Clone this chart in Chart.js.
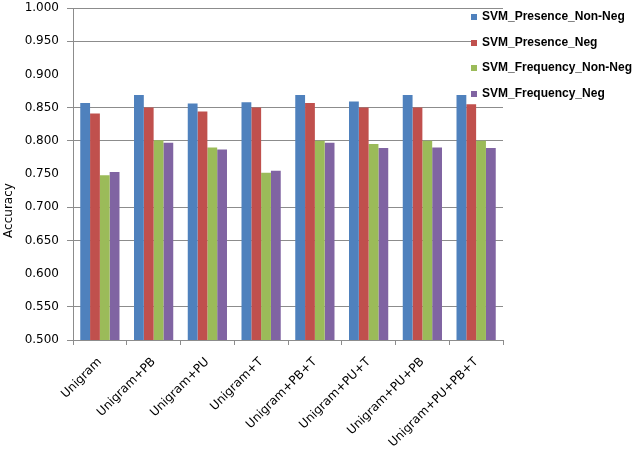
<!DOCTYPE html>
<html>
<head>
<meta charset="utf-8">
<script src="https://cdn.jsdelivr.net/npm/chart.js@4"></script>
<style>
  html, body { margin: 0; padding: 0; background: #ffffff; }
  #wrap { width: 640px; height: 449px; position: relative; }
</style>
</head>
<body>
<div id="wrap"><canvas id="c" width="640" height="449"></canvas></div>
<script>
const categories = ['Unigram', 'Unigram+PB', 'Unigram+PU', 'Unigram+T', 'Unigram+PB+T', 'Unigram+PU+T', 'Unigram+PU+PB', 'Unigram+PU+PB+T'];
const seriesNames = ['SVM_Presence_Non-Neg', 'SVM_Presence_Neg', 'SVM_Frequency_Non-Neg', 'SVM_Frequency_Neg'];
const presenceNonNeg = [0.857, 0.869, 0.856, 0.858, 0.869, 0.859, 0.869, 0.869];
const presenceNeg = [0.841, 0.850, 0.844, 0.850, 0.857, 0.850, 0.850, 0.855];
const frequencyNonNeg = [0.748, 0.801, 0.790, 0.752, 0.800, 0.795, 0.800, 0.800];
const frequencyNeg = [0.753, 0.797, 0.787, 0.755, 0.797, 0.789, 0.790, 0.789];
const yTicks = [0.5, 0.55, 0.6, 0.65, 0.7, 0.75, 0.8, 0.85, 0.9, 0.95, 1.0];
const hiddenGridValues = [0.6, 0.75, 0.9];
const yAxisTitle = 'Accuracy';

const colors = ['#4F81BD', '#C0504D', '#9BBB59', '#8064A2'];
const seriesValues = [presenceNonNeg, presenceNeg, frequencyNonNeg, frequencyNeg];
const FONT = "'DejaVu Sans', sans-serif";
const LEGEND_FONT = "'Liberation Sans', Arial, sans-serif";

const legendPlugin = {
  id: 'customLegend',
  afterDraw(chart) {
    const ctx = chart.ctx;
    ctx.save();
    ctx.fillStyle = '#ffffff';
    ctx.fillRect(471, 11, 169, 92);
    ctx.font = 'bold 12px ' + LEGEND_FONT;
    ctx.textBaseline = 'middle';
    ctx.textAlign = 'left';
    chart.data.datasets.forEach((ds, i) => {
      const y = 17 + i * 25.5;
      ctx.fillStyle = ds.backgroundColor;
      ctx.fillRect(471, Math.round(y) - 3, 6, 6);
      ctx.fillStyle = '#000000';
      ctx.fillText(ds.label, 482, y);
    });
    ctx.restore();
  }
};

const yTitlePlugin = {
  id: 'yTitle',
  afterDraw(chart) {
    const ctx = chart.ctx;
    const s = chart.scales.y;
    ctx.save();
    ctx.font = '12px ' + FONT;
    ctx.fillStyle = '#000000';
    ctx.textAlign = 'center';
    ctx.textBaseline = 'middle';
    ctx.translate(9, s.getPixelForValue(0.695));
    ctx.rotate(-Math.PI / 2);
    ctx.fillText(yAxisTitle, 0, 0);
    ctx.restore();
  }
};

const gridColor = (ctx) => {
  const v = ctx.tick ? ctx.tick.value : null;
  if (v !== null && hiddenGridValues.some(h => Math.abs(h - v) < 1e-6)) return 'rgba(0,0,0,0)';
  return '#8C8C8C';
};

new Chart(document.getElementById('c'), {
  type: 'bar',
  data: {
    labels: categories,
    datasets: seriesNames.map((name, i) => ({
      label: name,
      data: seriesValues[i],
      backgroundColor: colors[i],
      borderWidth: 0,
      categoryPercentage: 0.73,
      barPercentage: 1.0
    }))
  },
  options: {
    responsive: false,
    animation: false,
    devicePixelRatio: 1,
    layout: { padding: { left: 0, right: 137, top: 8, bottom: 0 } },
    plugins: {
      legend: { display: false },
      tooltip: { enabled: false }
    },
    scales: {
      x: {
        grid: { display: true, drawOnChartArea: false, drawTicks: true, tickLength: 5, color: '#8C8C8C', offset: true },
        border: { display: true, color: '#8C8C8C', width: 1 },
        ticks: {
          color: '#000000',
          font: { family: FONT, size: 12 },
          minRotation: 45,
          maxRotation: 45,
          padding: 10,
          autoSkip: false
        },
        afterFit(scale) { scale.height = 109; scale.paddingLeft = 0; scale.paddingRight = 0; }
      },
      y: {
        min: 0.5,
        max: 1.0,
        afterBuildTicks(scale) { scale.ticks = yTicks.map(v => ({ value: v })); },
        grid: { color: gridColor, tickColor: gridColor, tickLength: 6, lineWidth: 1 },
        border: { display: true, color: '#8C8C8C', width: 1 },
        ticks: {
          color: '#000000',
          font: { family: FONT, size: 12 },
          padding: 8,
          callback: (v) => Number(v).toFixed(3)
        },
        afterFit(scale) { scale.width = 73; scale.paddingTop = 0; scale.paddingBottom = 0; }
      }
    }
  },
  plugins: [legendPlugin, yTitlePlugin]
});
</script>
</body>
</html>
